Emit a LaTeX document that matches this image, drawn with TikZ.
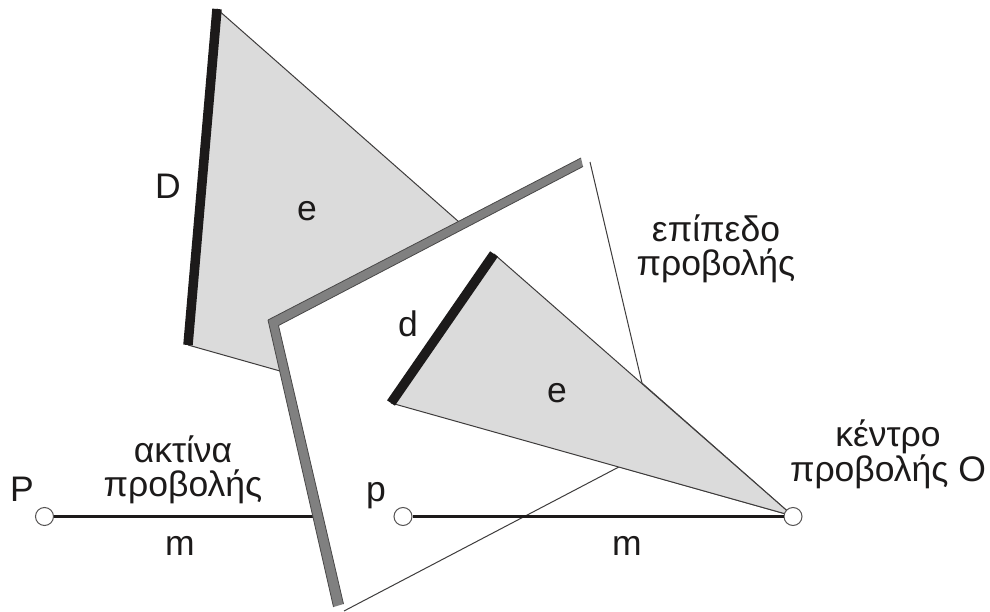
\documentclass[tikz,border=0pt]{standalone}
\usepackage{fontspec}
\setmainfont{Liberation Sans}
\definecolor{shade}{RGB}{219,219,219}
\definecolor{band}{RGB}{128,128,128}
\definecolor{ink}{RGB}{28,26,26}
\tikzset{
  face/.style={fill=shade,draw=none},
  thin edge/.style={draw=ink!85,line width=1pt},
  band edge/.style={draw=ink!80,line width=0.8pt},
  heavy edge/.style={draw=ink,line width=9.5pt,line cap=butt},
  ray/.style={draw=ink,line width=2.4pt},
  pt/.style={circle,draw=ink!75,fill=white,line width=1pt,minimum size=18pt,inner sep=0pt},
  lbl/.style={font=\fontsize{35.5}{34}\selectfont,text=ink,inner sep=0pt,align=center},
}
\begin{document}
\begin{tikzpicture}[x=1pt,y=-1pt]
\useasboundingbox (0,0) rectangle (990,612);
\fill[white] (0,0) rectangle (990,612);
% vertices
\coordinate (O0) at (793,516);
\coordinate (A) at (217,9);
\coordinate (B) at (188,345);
\coordinate (C) at (494,254);
\coordinate (E) at (391,403);
\coordinate (Q1) at (278.5,325.5);
\coordinate (Q2) at (590,162);
\coordinate (Q3) at (657,447);
\coordinate (Q4) at (344,611);
% large triangle
\fill[face] (A) -- (O0) -- (B) -- cycle;
\draw[thin edge] (A) -- (O0) (B) -- (O0);
\node[pt] (P) at (44.5,516.5) {};
\coordinate (Pend) at (330,516.5);
\draw[ray] (P) -- (Pend);
% plane
\fill[white] (Q1) -- (Q2) -- (Q3) -- (Q4) -- cycle;
\draw[thin edge] (Q2) -- (Q3) -- (Q4);
% gray band
\fill[band] (268,320) -- (581,158) -- (583,166.5) -- (Q1) -- (343.5,604) -- (333.5,607) -- cycle;
\draw[band edge] (268,320) -- (581,158) (Q1) -- (583,166.5) (268,320) -- (333.5,607) (Q1) -- (343.5,604);
% small triangle
\fill[face] (C) -- (O0) -- (E) -- cycle;
\draw[thin edge] (C) -- (O0) (E) -- (O0);
% heavy segments
\draw[heavy edge] (A) -- (B);
\draw[heavy edge] (C) -- (E);
% ray
\node[pt] (pp) at (403,516.5) {};
\node[pt] (O) at (793,516.5) {};
\draw[ray] (pp) -- (O);
% labels
\node[lbl,anchor=base] (tD) at (168,199) {D};
\node[lbl,anchor=base] (te1) at (307,221) {e};
\node[lbl,anchor=base] (td) at (408,336) {d};
\node[lbl,anchor=base] (te2) at (557,402) {e};
\node[lbl] (tplane) at (716,249) {επίπεδο\\προβολής};
\node[lbl] (tray) at (183,470) {ακτίνα\\προβολής};
\node[lbl,anchor=base] (tP) at (22,501) {P};
\node[lbl,anchor=base] (tm1) at (180,555) {m};
\node[lbl,anchor=base] (tp) at (376,501) {p};
\node[lbl,anchor=base] (tm2) at (627,555) {m};
\node[lbl] (tk) at (888,454) {κέντρο\\προβολής O};
\end{tikzpicture}
\end{document}
